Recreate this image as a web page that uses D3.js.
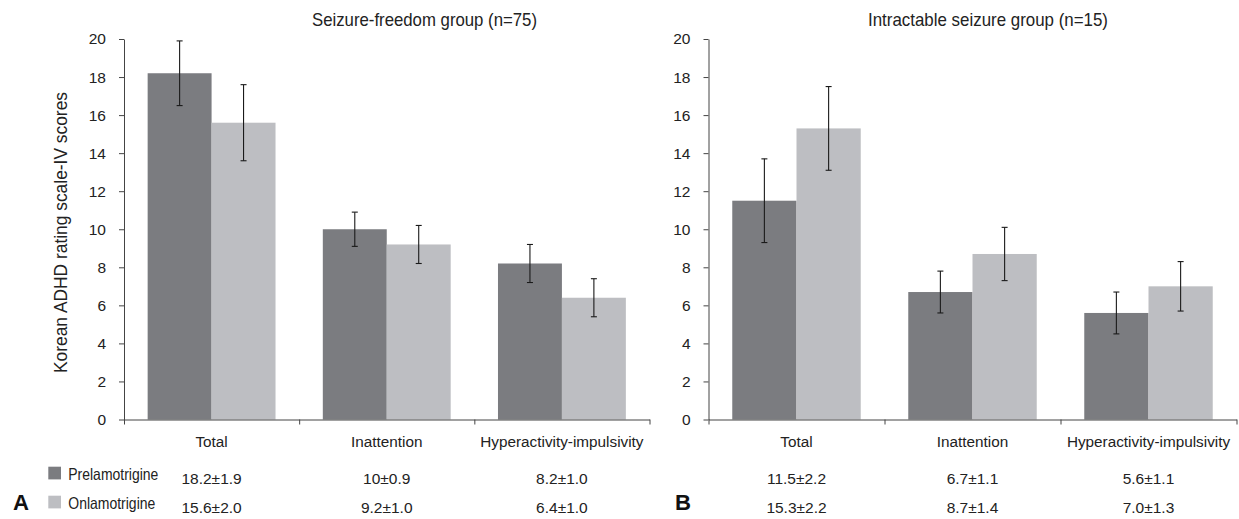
<!DOCTYPE html>
<html>
<head>
<meta charset="utf-8">
<script src="https://cdn.jsdelivr.net/npm/d3@7"></script>
<style>
  html, body { margin: 0; padding: 0; background: #fff; }
  svg { display: block; font-family: "Liberation Sans", Arial, Helvetica, sans-serif; }
</style>
</head>
<body>
<svg id="chart" width="1239" height="519"></svg>
<script>
// ---- data ----
const categories = ["Total", "Inattention", "Hyperactivity-impulsivity"];
const seriesNames = ["Prelamotrigine", "Onlamotrigine"];
const yTicks = [0, 2, 4, 6, 8, 10, 12, 14, 16, 18, 20];

const panelTitles = ["Seizure-freedom group (n=75)", "Intractable seizure group (n=15)"];
const panelLetters = ["A", "B"];

const freedomPre = [18.2, 10, 8.2];
const freedomOn = [15.6, 9.2, 6.4];
const freedomPreErr = [1.7, 0.9, 1.0];
const freedomOnErr = [2.0, 1.0, 1.0];
const freedomPreLabels = ["18.2\u00B11.9", "10\u00B10.9", "8.2\u00B11.0"];
const freedomOnLabels = ["15.6\u00B12.0", "9.2\u00B11.0", "6.4\u00B11.0"];

const intractPre = [11.5, 6.7, 5.6];
const intractOn = [15.3, 8.7, 7.0];
const intractPreErr = [2.2, 1.1, 1.1];
const intractOnErr = [2.2, 1.4, 1.3];
const intractPreLabels = ["11.5\u00B12.2", "6.7\u00B11.1", "5.6\u00B11.1"];
const intractOnLabels = ["15.3\u00B12.2", "8.7\u00B11.4", "7.0\u00B11.3"];

const colors = ["#7b7c80", "#bdbec2"];

// ---- layout ----
const svg = d3.select("#chart");
const y = d3.scaleLinear().domain([0, 20]).range([419.5, 39]);

const panels = [
  { x0: 124, x1: 649.5, title: panelTitles[0], titleX: 312, titleW: 225, letter: panelLetters[0], letterX: 13,
    pre: freedomPre, on: freedomOn, preErr: freedomPreErr, onErr: freedomOnErr,
    preLab: freedomPreLabels, onLab: freedomOnLabels },
  { x0: 708.5, x1: 1236.5, title: panelTitles[1], titleX: 868, titleW: 240, letter: panelLetters[1], letterX: 675,
    pre: intractPre, on: intractOn, preErr: intractPreErr, onErr: intractOnErr,
    preLab: intractPreLabels, onLab: intractOnLabels }
];

panels.forEach((p, pi) => {
  const g = svg.append("g");
  const x = d3.scaleBand().domain(categories).range([p.x0, p.x1])
    .paddingInner(0.27).paddingOuter(0.135);
  const xs = d3.scaleBand().domain(seriesNames).range([0, x.bandwidth()]).padding(0);

  const rows = categories.map((c, i) => ({
    cat: c,
    vals: [
      { s: seriesNames[0], v: p.pre[i], e: p.preErr[i] },
      { s: seriesNames[1], v: p.on[i], e: p.onErr[i] }
    ]
  }));

  // bars
  const grp = g.selectAll("g.cat").data(rows).join("g")
    .attr("transform", d => `translate(${x(d.cat)},0)`);
  grp.selectAll("rect").data(d => d.vals).join("rect")
    .attr("x", d => xs(d.s))
    .attr("width", xs.bandwidth())
    .attr("y", d => y(d.v))
    .attr("height", d => y(0) - y(d.v))
    .attr("fill", (d, i) => colors[i]);

  // error bars
  const eb = grp.selectAll("g.err").data(d => d.vals).join("g")
    .attr("stroke", "#1a1a1a").attr("stroke-width", 1.1);
  eb.append("line")
    .attr("x1", d => xs(d.s) + xs.bandwidth() / 2)
    .attr("x2", d => xs(d.s) + xs.bandwidth() / 2)
    .attr("y1", d => y(d.v + d.e)).attr("y2", d => y(d.v - d.e));
  eb.append("line")
    .attr("x1", d => xs(d.s) + xs.bandwidth() / 2 - 3)
    .attr("x2", d => xs(d.s) + xs.bandwidth() / 2 + 3)
    .attr("y1", d => y(d.v + d.e)).attr("y2", d => y(d.v + d.e));
  eb.append("line")
    .attr("x1", d => xs(d.s) + xs.bandwidth() / 2 - 3)
    .attr("x2", d => xs(d.s) + xs.bandwidth() / 2 + 3)
    .attr("y1", d => y(d.v - d.e)).attr("y2", d => y(d.v - d.e));

  // y axis
  const ya = g.append("g").attr("transform", `translate(${p.x0},0)`)
    .call(d3.axisLeft(y).tickValues(yTicks).tickSize(5).tickPadding(13).tickSizeOuter(0));
  ya.select(".domain").attr("stroke", "#444");
  ya.selectAll(".tick line").attr("stroke", "#444");
  ya.selectAll(".tick text").attr("font-size", 15.5).attr("fill", "#222")
    .attr("font-family", "'Liberation Sans', Arial, sans-serif");

  // x axis with boundary ticks
  const xb = d3.scaleLinear().domain([0, categories.length]).range([p.x0, p.x1]);
  const xa = g.append("g").attr("transform", `translate(0,${y(0)})`)
    .call(d3.axisBottom(xb).tickValues(d3.range(categories.length + 1)).tickSize(5)
      .tickSizeOuter(0).tickFormat(""));
  xa.select(".domain").attr("stroke", "#444");
  xa.selectAll(".tick line").attr("stroke", "#444");

  // category labels
  g.selectAll("text.cat").data(categories).join("text")
    .attr("class", "cat")
    .attr("x", d => x(d) + x.bandwidth() / 2)
    .attr("y", 447)
    .attr("text-anchor", "middle")
    .attr("font-size", 15.3)
    .attr("fill", "#222")
    .text(d => d);

  // values table
  g.selectAll("text.pre").data(p.preLab).join("text")
    .attr("class", "pre")
    .attr("x", (d, i) => x(categories[i]) + x.bandwidth() / 2)
    .attr("y", 483.5)
    .attr("text-anchor", "middle").attr("font-size", 15.5).attr("fill", "#222")
    .text(d => d);
  g.selectAll("text.on").data(p.onLab).join("text")
    .attr("class", "on")
    .attr("x", (d, i) => x(categories[i]) + x.bandwidth() / 2)
    .attr("y", 513)
    .attr("text-anchor", "middle").attr("font-size", 15.5).attr("fill", "#222")
    .text(d => d);

  // title
  g.append("text").attr("x", p.titleX).attr("y", 26)
    .attr("font-size", 18.5).attr("fill", "#222")
    .attr("textLength", p.titleW).attr("lengthAdjust", "spacingAndGlyphs")
    .text(p.title);

  // panel letter
  g.append("text").attr("x", p.letterX).attr("y", 510)
    .attr("font-size", 22).attr("font-weight", "bold").attr("fill", "#111")
    .attr("textLength", 16).attr("lengthAdjust", "spacingAndGlyphs")
    .text(p.letter);
});

// y axis title
svg.append("text")
  .attr("transform", "translate(67,232.5) rotate(-90)")
  .attr("text-anchor", "middle")
  .attr("font-size", 18.5)
  .attr("fill", "#222")
  .attr("textLength", 281).attr("lengthAdjust", "spacingAndGlyphs")
  .text("Korean ADHD rating scale-IV scores");

// legend
const leg = svg.append("g");
const legY = [466.7, 495.7];
leg.selectAll("rect").data(seriesNames).join("rect")
  .attr("x", 48.3).attr("y", (d, i) => legY[i])
  .attr("width", 12.7).attr("height", 12.7)
  .attr("fill", (d, i) => colors[i]);
leg.selectAll("text").data(seriesNames).join("text")
  .attr("x", 68.3).attr("y", (d, i) => legY[i] + 13.3)
  .attr("font-size", 16.5).attr("fill", "#222")
  .attr("textLength", (d, i) => i === 0 ? 90 : 87).attr("lengthAdjust", "spacingAndGlyphs")
  .text(d => d);
</script>
</body>
</html>
